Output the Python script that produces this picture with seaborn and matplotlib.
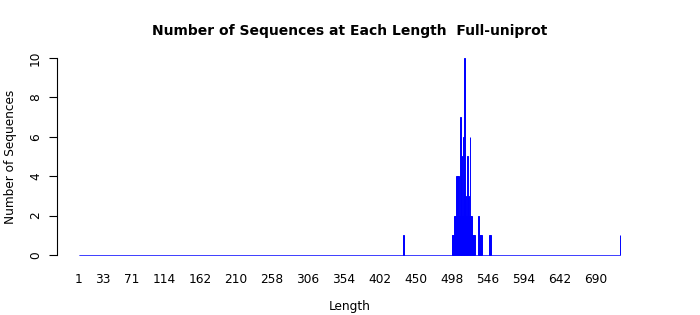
import numpy as np
import pandas as pd
import matplotlib
matplotlib.use("Agg")
import matplotlib.pyplot as plt
import seaborn as sns

# Non-zero lengths and their counts
seq_lengths = [433, 498, 499, 500, 501, 502, 503, 504, 505, 506, 507, 508, 509, 510,
               511, 512, 513, 514, 515, 516, 517, 518, 519, 520, 521, 522, 523, 524,
               525, 526, 527, 528, 533, 534, 535, 536, 537, 548, 549, 722]
seq_counts = [1, 1, 1, 1, 2, 2, 2, 4, 4, 4, 4, 2, 7, 2,
              5, 2, 6, 3, 10, 3, 2, 2, 5, 3, 2, 6, 2, 2,
              1, 1, 1, 1, 2, 1, 1, 1, 1, 1, 1, 1]
x_tick_labels = [1, 33, 71, 114, 162, 210, 258, 306, 354, 402, 450, 498, 546, 594, 642, 690]
y_ticks = [0, 2, 4, 6, 8, 10]

min_len, max_len = 1, max(seq_lengths)
full_len = np.arange(min_len, max_len + 1)
full_cnt = np.zeros_like(full_len)
full_cnt[np.array(seq_lengths) - min_len] = seq_counts
df = pd.DataFrame({"Length": full_len, "Count": full_cnt})

plt.rcParams["font.family"] = ["DejaVu Sans"]

fig = plt.figure(figsize=(7, 3.15), dpi=100)
ax = fig.add_axes([0.082, 0.1654, 0.9167 - 0.082, 0.841 - 0.1654])

sns.barplot(data=df, x="Length", y="Count", native_scale=True, width=1.0,
            color="blue", saturation=1, edgecolor="blue", linewidth=0.7,
            errorbar=None, ax=ax)

span = max_len - min_len
ax.set_xlim(min_len - 0.04 * span, max_len + 0.04 * span)
ax.set_ylim(-0.4, 10.4)

for s in ["top", "right", "bottom"]:
    ax.spines[s].set_visible(False)
ax.spines["left"].set_bounds(0, 10)
ax.spines["left"].set_color("black")
ax.spines["left"].set_linewidth(0.8)

ax.set_yticks(y_ticks)
ax.set_yticklabels([str(v) for v in y_ticks], rotation=90, va="center", fontsize=8.7)
ax.tick_params(axis="y", left=True, length=6, width=0.8, pad=5, color="black")

ax.set_xticks(x_tick_labels)
ax.set_xticklabels([str(v) for v in x_tick_labels], fontsize=8.7)
ax.tick_params(axis="x", bottom=False, length=0, pad=7)

ax.set_xlabel("Length", fontsize=8.7, labelpad=10)
ax.set_ylabel("Number of Sequences", fontsize=8.7, labelpad=9)
ax.set_title("Number of Sequences at Each Length  Full-uniprot",
             fontsize=10, fontweight="bold", pad=11)
ax.grid(False)

fig.savefig("out.png", dpi=100)
